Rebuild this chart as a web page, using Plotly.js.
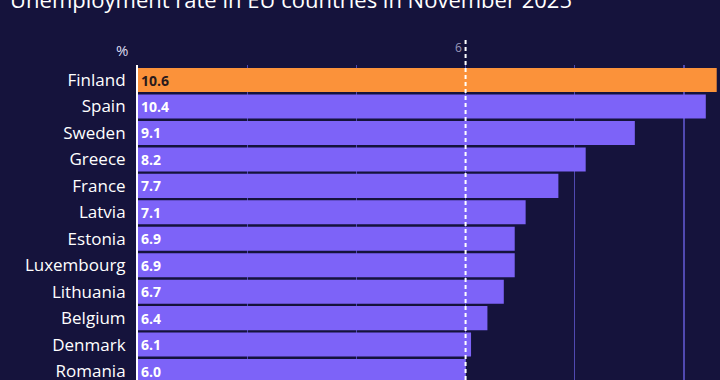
<!DOCTYPE html>
<html>
<head>
<meta charset="utf-8">
<script src="https://cdn.plot.ly/plotly-3.0.1.min.js"></script>
<style>
  html, body { margin: 0; padding: 0; background: #15133c; }
  #chart { width: 720px; height: 380px; }
</style>
</head>
<body>
<div id="chart"></div>
<script>
const countries = ["Finland", "Spain", "Sweden", "Greece", "France", "Latvia", "Estonia", "Luxembourg", "Lithuania", "Belgium", "Denmark", "Romania"];
const rates = [10.6, 10.4, 9.1, 8.2, 7.7, 7.1, 6.9, 6.9, 6.7, 6.4, 6.1, 6.0];
const highlight = "Finland";
const euAverage = 6.0;
const chartTitle = "Unemployment rate in EU countries in November 2025";
const unitLabel = "%";

const barColors = countries.map(c => c === highlight ? "#fb923a" : "#7d63f8");
const textColors = countries.map(c => c === highlight ? "#2a1a1c" : "#ffffff");

const trace = {
  type: "bar",
  orientation: "h",
  y: countries,
  x: rates,
  marker: { color: barColors, line: { width: 0 } },
  text: rates.map(v => v.toFixed(1)),
  textposition: "inside",
  insidetextanchor: "start",
  constraintext: "none",
  textfont: { family: "Open Sans, sans-serif", size: 14, color: textColors, weight: 700 },
  hoverinfo: "none",
  cliponaxis: false
};

const layout = {
  width: 720,
  height: 380,
  paper_bgcolor: "#15133c",
  plot_bgcolor: "#15133c",
  margin: { l: 138, r: 0, t: 65, b: 0 },
  bargap: 0.09,
  showlegend: false,
  xaxis: {
    range: [0, 10.66],
    dtick: 2,
    tick0: 0,
    showgrid: true,
    gridcolor: "#5049b0",
    gridwidth: 1.3,
    zeroline: false,
    showticklabels: false,
    showline: false,
    fixedrange: true
  },
  yaxis: {
    type: "category",
    range: [11.34, -0.57],
    showgrid: false,
    zeroline: false,
    showline: true,
    linecolor: "#ffffff",
    linewidth: 2,
    ticks: "",
    ticklabelstandoff: 7,
    tickfont: { family: "Open Sans, sans-serif", size: 17, color: "#ffffff" },
    fixedrange: true
  },
  shapes: [
    {
      type: "line",
      xref: "x", yref: "paper",
      x0: euAverage, x1: euAverage,
      y0: 0, y1: 1.079,
      line: { color: "#ffffff", width: 2, dash: "4px,3px" },
      layer: "above"
    }
  ],
  annotations: [
    {
      text: chartTitle,
      xref: "paper", yref: "paper",
      x: -0.2235, y: 1.2095,
      xanchor: "left", yanchor: "middle",
      showarrow: false,
      font: { family: "Open Sans, sans-serif", size: 22, color: "#ffffff" }
    },
    {
      text: unitLabel,
      xref: "paper", yref: "paper",
      x: -0.027, y: 1.048,
      xanchor: "center", yanchor: "middle",
      showarrow: false,
      font: { family: "Open Sans, sans-serif", size: 15, color: "#dcdcf0" }
    },
    {
      text: "6",
      xref: "x", yref: "paper",
      x: euAverage, xshift: -2, y: 1.057,
      xanchor: "right", yanchor: "middle",
      showarrow: false,
      font: { family: "Open Sans, sans-serif", size: 12, color: "#9a98b8" }
    }
  ]
};

Plotly.newPlot("chart", [trace], layout, { displayModeBar: false, staticPlot: true });
</script>
</body>
</html>
